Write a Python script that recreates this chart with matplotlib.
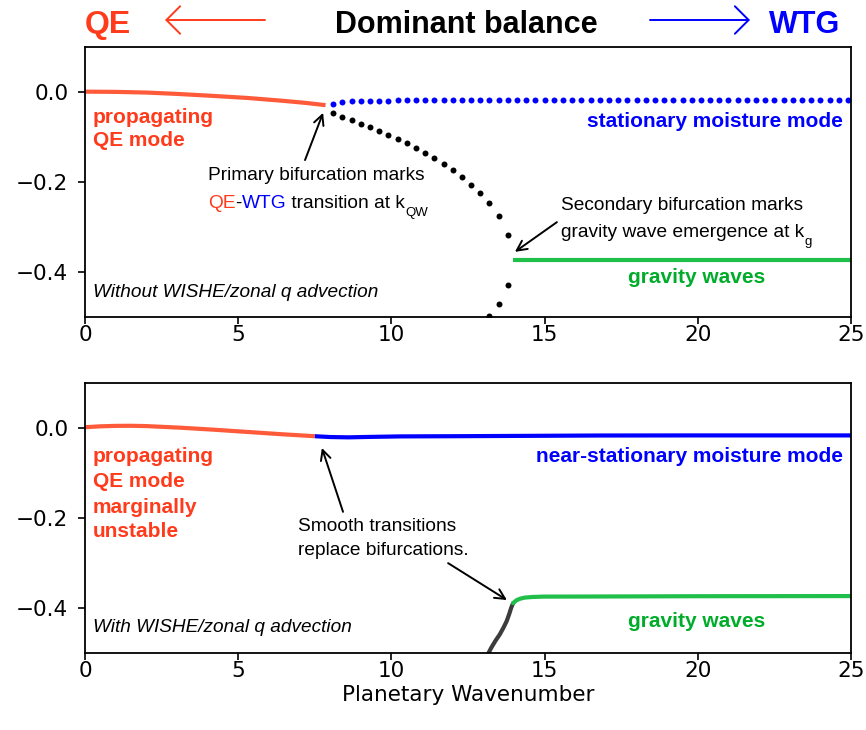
import matplotlib
matplotlib.use("Agg")
import matplotlib.pyplot as plt

# growth rates vs planetary wavenumber, read off the eigenvalue sweeps
# --- without WISHE / zonal q advection ---
k_qe_a = [0.0, 1.0, 2.0, 3.0, 4.2, 5.3, 6.4, 7.2, 7.85]
s_qe_a = [0.0, -0.0005, -0.002, -0.005, -0.0095, -0.014, -0.020, -0.025, -0.030]

k_wtg_a = [8.1, 8.4, 8.7, 9.0, 9.3, 9.6, 9.9, 10.2, 10.5, 10.8, 11.1, 11.4, 11.7, 12.0,
           12.3, 12.6, 12.9, 13.2, 13.5, 13.8, 14.1, 14.4, 14.7, 15.0, 15.3, 15.6, 15.9,
           16.2, 16.5, 16.8, 17.1, 17.4, 17.7, 18.0, 18.3, 18.6, 18.9, 19.2, 19.5, 19.8,
           20.1, 20.4, 20.7, 21.0, 21.3, 21.6, 21.9, 22.2, 22.5, 22.8, 23.1, 23.4, 23.7,
           24.0, 24.3, 24.6, 24.9]
s_wtg_a = [-0.027, -0.0235, -0.0215, -0.021, -0.0205, -0.020, -0.0198, -0.0195, -0.0193,
           -0.019, -0.019, -0.0188, -0.0187, -0.0186, -0.0185, -0.0184, -0.0183, -0.0183,
           -0.0182, -0.0182, -0.0181, -0.0181, -0.018, -0.018, -0.018, -0.018, -0.0179,
           -0.0179, -0.0179, -0.0178, -0.0178, -0.0178, -0.0178, -0.0177, -0.0177, -0.0177,
           -0.0177, -0.0177, -0.0176, -0.0176, -0.0176, -0.0176, -0.0176, -0.0176, -0.0175,
           -0.0175, -0.0175, -0.0175, -0.0175, -0.0175, -0.0175, -0.0175, -0.0175, -0.0175,
           -0.0175, -0.0175, -0.0175]

k_damp_a = [8.1, 8.4, 8.7, 9.0, 9.3, 9.6, 9.9, 10.2, 10.5, 10.8, 11.1, 11.4, 11.7, 12.0,
            12.3, 12.6, 12.9, 13.2, 13.5, 13.8, 13.8, 13.5, 13.2, 12.9]
s_damp_a = [-0.047, -0.056, -0.064, -0.072, -0.079, -0.087, -0.096, -0.105, -0.115,
            -0.125, -0.136, -0.148, -0.161, -0.175, -0.190, -0.207, -0.226, -0.248,
            -0.276, -0.318, -0.430, -0.472, -0.498, -0.525]

k_grav_a = [13.97, 25.0]
s_grav_a = [-0.374, -0.374]

# --- with WISHE / zonal q advection ---
k_qe_b = [0.0, 0.5, 1.0, 1.5, 2.0, 3.1, 4.2, 5.3, 6.4, 7.5]
s_qe_b = [0.001, 0.003, 0.004, 0.0042, 0.0035, 0.0, -0.0045, -0.0095, -0.0145, -0.019]

k_wtg_b = [7.5, 8.0, 8.6, 9.3, 10.3, 12.0, 13.5, 15.0, 16.8, 20.0, 25.0]
s_wtg_b = [-0.019, -0.0208, -0.0215, -0.0205, -0.0194, -0.019, -0.0185, -0.018, -0.0174,
           -0.0172, -0.0172]

k_damp_b = [13.1, 13.25, 13.4, 13.54, 13.66, 13.76, 13.84, 13.91, 13.97]
s_damp_b = [-0.51, -0.49, -0.473, -0.459, -0.444, -0.430, -0.415, -0.400, -0.390]

k_grav_b = [13.97, 14.08, 14.2, 14.35, 14.6, 14.95, 16.4, 20.0, 25.0]
s_grav_b = [-0.390, -0.3835, -0.380, -0.3776, -0.3762, -0.3754, -0.3752, -0.3745, -0.3742]

RED_LN = '#ff5a3a'
RED_TX = '#ff3b1c'
BLUE = '#0000ff'
GREEN_LN = '#1fbf4a'
GREEN_TX = '#00ad2a'
GRAY = '#3c3c3c'
SANS = 'Liberation Sans'

fig = plt.figure(figsize=(8.66, 7.3), dpi=100)
ax1 = fig.add_axes([0.0982, 0.5662, 0.8845, 0.3699])
ax2 = fig.add_axes([0.0982, 0.1059, 0.8845, 0.3699])

for ax in (ax1, ax2):
    ax.set_xlim(0, 25)
    ax.set_ylim(-0.5, 0.1)
    ax.set_xticks([0, 5, 10, 15, 20, 25])
    ax.set_yticks([0.0, -0.2, -0.4])
    ax.tick_params(labelsize=15.5, length=5, width=1.2)
    ax.tick_params(axis='x', pad=1)
    ax.tick_params(axis='y', pad=7)
    for sp in ax.spines.values():
        sp.set_linewidth(1.3)

# top panel: bifurcating branches
ax1.plot(k_qe_a, s_qe_a, color=RED_LN, lw=3, solid_capstyle='butt')
ax1.plot(k_wtg_a, s_wtg_a, 'o', color=BLUE, ms=4.3, mew=0)
ax1.plot(k_damp_a, s_damp_a, 'o', color='black', ms=4.3, mew=0)
ax1.plot(k_grav_a, s_grav_a, color=GREEN_LN, lw=3, solid_capstyle='butt')

# bottom panel: smooth transitions
ax2.plot(k_qe_b, s_qe_b, color=RED_LN, lw=3, solid_capstyle='butt')
ax2.plot(k_wtg_b, s_wtg_b, color=BLUE, lw=3, solid_capstyle='butt')
ax2.plot(k_damp_b, s_damp_b, color=GRAY, lw=3, solid_capstyle='round')
ax2.plot(k_grav_b, s_grav_b, color=GREEN_LN, lw=3, solid_capstyle='round')


def bold(ax, x, y, s, color, ha='left'):
    ax.text(x, y, s, color=color, fontsize=15, fontweight='bold', family=SANS,
            ha=ha, va='baseline')


def plain(ax, x, y, s, **kw):
    return ax.text(x, y, s, fontsize=13.8, family=SANS, va='baseline', **kw)


def chain(prev, s, **kw):
    # continue a line of text right after the previous piece
    return prev.axes.annotate(s, xy=(1, 0), xycoords=prev, ha='left', va='bottom',
                              fontsize=kw.pop('fontsize', 13.8), family=SANS, **kw)


arrow = dict(arrowstyle='->', color='black', lw=1.4, shrinkA=0, shrinkB=0,
             mutation_scale=18)

# labels, top
bold(ax1, 0.26, -0.069, 'propagating', RED_TX)
bold(ax1, 0.26, -0.121, 'QE mode', RED_TX)
bold(ax1, 24.74, -0.079, 'stationary moisture mode', BLUE, ha='right')
bold(ax1, 19.97, -0.425, 'gravity waves', GREEN_TX, ha='center')
ax1.text(0.26, -0.456, 'Without WISHE/zonal q advection', fontsize=13.7, style='italic',
         family=SANS, va='baseline')

plain(ax1, 4.01, -0.196, 'Primary bifurcation marks')
t = plain(ax1, 4.01, -0.259, 'QE', color=RED_TX)
t = chain(t, '-')
t = chain(t, 'WTG', color=BLUE)
t = chain(t, ' transition at k')
chain(t, 'QW', fontsize=9.5, xytext=(0, -5), textcoords='offset points')
ax1.annotate('', xy=(7.77, -0.047), xytext=(7.18, -0.152), arrowprops=arrow)

plain(ax1, 15.54, -0.263, 'Secondary bifurcation marks')
t = plain(ax1, 15.54, -0.323, 'gravity wave emergence at k')
chain(t, 'g', fontsize=9.5, xytext=(0, -5), textcoords='offset points')
ax1.annotate('', xy=(14.03, -0.356), xytext=(15.40, -0.290), arrowprops=arrow)

# labels, bottom
for yy, s in zip([-0.0756, -0.1324, -0.189, -0.242],
                 ['propagating', 'QE mode', 'marginally', 'unstable']):
    bold(ax2, 0.26, yy, s, RED_TX)
bold(ax2, 24.74, -0.076, 'near-stationary moisture mode', BLUE, ha='right')
bold(ax2, 19.97, -0.442, 'gravity waves', GREEN_TX, ha='center')
ax2.text(0.26, -0.453, 'With WISHE/zonal q advection', fontsize=13.7, style='italic',
         family=SANS, va='baseline')

plain(ax2, 6.95, -0.2296, 'Smooth transitions')
plain(ax2, 6.95, -0.283, 'replace bifurcations.')
ax2.annotate('', xy=(7.73, -0.045), xytext=(8.42, -0.187), arrowprops=arrow)
ax2.annotate('', xy=(13.77, -0.383), xytext=(11.85, -0.301), arrowprops=arrow)

ax2.set_xlabel('Planetary Wavenumber', fontsize=15.5, labelpad=3)

# header: which balance dominates
fig.text(0.0982, 0.955, 'QE', color=RED_TX, fontsize=23, fontweight='bold', family=SANS,
         va='baseline', ha='left')
fig.text(0.539, 0.955, 'Dominant balance', color='black', fontsize=22, fontweight='bold',
         family=SANS, va='baseline', ha='center')
fig.text(0.970, 0.955, 'WTG', color=BLUE, fontsize=22, fontweight='bold', family=SANS,
         va='baseline', ha='right')
head = dict(arrowstyle='->, head_length=0.45, head_width=0.45', lw=1.4, shrinkA=0, shrinkB=0,
            mutation_scale=22)
fig.add_artist(matplotlib.patches.FancyArrowPatch((265 / 866, 0.9726), (165 / 866, 0.9726),
                                                  transform=fig.transFigure, color=RED_TX,
                                                  **head))
fig.add_artist(matplotlib.patches.FancyArrowPatch((650 / 866, 0.9726), (750 / 866, 0.9726),
                                                  transform=fig.transFigure, color=BLUE,
                                                  **head))

fig.savefig('out.png', dpi=100)
